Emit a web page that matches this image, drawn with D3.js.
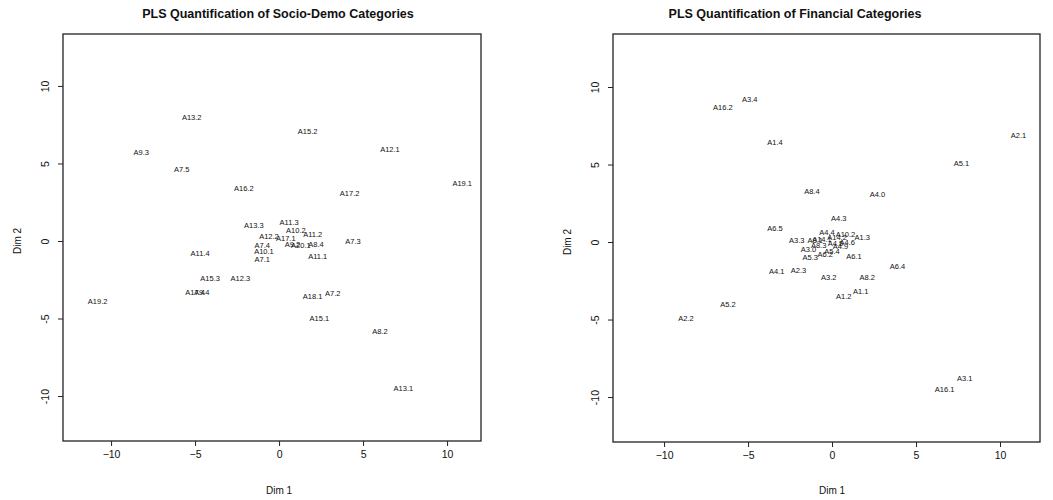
<!DOCTYPE html>
<html>
<head>
<meta charset="utf-8">
<script src="https://cdn.jsdelivr.net/npm/d3@7"></script>
<style>
  body { margin: 0; background: #fff; }
  text { font-family: "Liberation Sans", Arial, sans-serif; fill: #111; }
</style>
</head>
<body>
<div id="chart"></div>
<script>
// Socio-demo categories (Dim 1, Dim 2)
var socioLabels = ["A13.2","A15.2","A9.3","A12.1","A7.5","A16.2","A17.2","A19.1",
    "A13.3","A11.3","A10.2","A11.2","A8.4","A11.1","A7.3","A12.2","A17.1","A9.2",
    "A20.1","A7.4","A10.1","A7.1","A11.4","A15.3","A12.3","A17.4","A9.4","A19.2",
    "A18.1","A7.2","A15.1","A8.2","A13.1"];
var socioDim1 = [-5.2, 1.7, -8.2, 6.6, -5.8, -2.1, 4.2, 10.9,
    -1.5, 0.6, 1.0, 2.0, 2.2, 2.3, 4.4, -0.6, 0.4, 0.8,
    1.3, -1.0, -0.9, -1.0, -4.7, -4.1, -2.3, -5.0, -4.6, -10.8,
    2.0, 3.2, 2.4, 6.0, 7.4];
var socioDim2 = [8.0, 7.1, 5.7, 5.9, 4.6, 3.4, 3.1, 3.7,
    1.0, 1.2, 0.7, 0.4, -0.2, -1.0, 0.0, 0.3, 0.2, -0.2,
    -0.3, -0.3, -0.7, -1.2, -0.8, -2.4, -2.4, -3.3, -3.3, -3.9,
    -3.6, -3.4, -5.0, -5.8, -9.5];

// Financial categories (Dim 1, Dim 2)
var finLabels = ["A16.2","A3.4","A1.4","A2.1","A5.1","A8.4","A4.0","A4.3","A6.5",
    "A3.3","A1.3","A5.3","A6.1","A4.1","A2.3","A3.2","A8.2","A6.4","A1.2","A1.1",
    "A5.2","A2.2","A3.1","A16.1",
    "A4.4","A14.2","A8.3","A3.0","A4.6","A5.4","A14.1","A4.9","A8.1","A4.5","A6.2","A10.2"];
var finDim1 = [-6.5, -4.9, -3.4, 11.1, 7.7, -1.2, 2.7, 0.4, -3.4,
    -2.1, 1.8, -1.3, 1.3, -3.3, -2.0, -0.2, 2.1, 3.9, 0.7, 1.7,
    -6.2, -8.7, 7.9, 6.7,
    -0.3, 0.3, -0.8, -1.4, 0.9, 0.0, -0.6, 0.5, -1.0, 0.2, -0.4, 0.8];
var finDim2 = [8.7, 9.2, 6.4, 6.9, 5.1, 3.3, 3.1, 1.5, 0.9,
    0.1, 0.3, -1.0, -0.9, -1.9, -1.8, -2.3, -2.3, -1.6, -3.5, -3.2,
    -4.0, -4.9, -8.8, -9.5,
    0.6, 0.3, -0.2, -0.5, 0.0, -0.6, 0.2, -0.3, 0.1, -0.1, -0.8, 0.5];

var xTicks = [-10, -5, 0, 5, 10];
var yTicks = [-10, -5, 0, 5, 10];

var W = 1053, H = 500;
var svg = d3.select("#chart").append("svg")
    .attr("width", W)
    .attr("height", H);

function drawPanel(opt) {
    var x = d3.scaleLinear().domain(opt.xDomain).range([opt.left, opt.right]);
    var y = d3.scaleLinear().domain(opt.yDomain).range([opt.bottom, opt.top]);

    var g = svg.append("g");

    // title
    g.append("text")
        .attr("x", opt.titleX)
        .attr("y", 18)
        .attr("text-anchor", "middle")
        .style("font-size", "12.5px")
        .style("font-weight", "bold")
        .text(opt.title);

    // box
    g.append("rect")
        .attr("x", opt.left)
        .attr("y", opt.top)
        .attr("width", opt.right - opt.left)
        .attr("height", opt.bottom - opt.top)
        .attr("fill", "none")
        .attr("stroke", "#222")
        .attr("stroke-width", 1.3);

    // x axis
    var xaxis = d3.axisBottom(x).tickValues(xTicks).tickSize(5).tickPadding(5);
    var gx = g.append("g")
        .attr("transform", "translate(0," + opt.bottom + ")")
        .call(xaxis);
    gx.select(".domain").remove();
    gx.selectAll("text").style("font-size", "10.5px")
        .style("font-family", "'Liberation Sans', Arial, sans-serif").attr("fill", "#222");
    gx.selectAll("line").attr("stroke", "#222");

    // y axis, labels rotated like R default
    var yaxis = d3.axisLeft(y).tickValues(yTicks).tickSize(5).tickFormat(function (d) { return d; });
    var gy = g.append("g")
        .attr("transform", "translate(" + opt.left + ",0)")
        .call(yaxis);
    gy.select(".domain").remove();
    gy.selectAll("line").attr("stroke", "#222");
    gy.selectAll("text")
        .attr("x", 0).attr("dy", 0)
        .attr("transform", "translate(-18,0) rotate(-90)")
        .attr("text-anchor", "middle")
        .attr("dy", "0.35em")
        .style("font-size", "10.5px")
        .style("font-family", "'Liberation Sans', Arial, sans-serif").attr("fill", "#222");

    // axis titles
    g.append("text")
        .attr("x", x(0))
        .attr("y", 494)
        .attr("text-anchor", "middle")
        .style("font-size", "10px")
        .text("Dim 1");
    g.append("text")
        .attr("transform", "translate(" + (opt.left - 46) + "," + y(0) + ") rotate(-90)")
        .attr("text-anchor", "middle")
        .attr("dy", "0.35em")
        .style("font-size", "10px")
        .text("Dim 2");

    // category labels
    g.selectAll("text.cat")
        .data(opt.labels)
        .enter().append("text")
        .attr("class", "cat")
        .attr("x", function (d, i) { return x(opt.d1[i]); })
        .attr("y", function (d, i) { return y(opt.d2[i]); })
        .attr("dy", "0.35em")
        .attr("text-anchor", "middle")
        .style("font-size", "7.5px")
        .text(function (d) { return d; });
}

drawPanel({
    title: "PLS Quantification of Socio-Demo Categories",
    titleX: 278,
    left: 63, right: 481, top: 34, bottom: 441,
    xDomain: [-12.86, 12.02], yDomain: [-12.9, 13.35],
    labels: socioLabels, d1: socioDim1, d2: socioDim2
});

drawPanel({
    title: "PLS Quantification of Financial Categories",
    titleX: 795,
    left: 613, right: 1040, top: 34, bottom: 442,
    xDomain: [-13.04, 12.38], yDomain: [-12.9, 13.42],
    labels: finLabels, d1: finDim1, d2: finDim2
});
</script>
</body>
</html>
